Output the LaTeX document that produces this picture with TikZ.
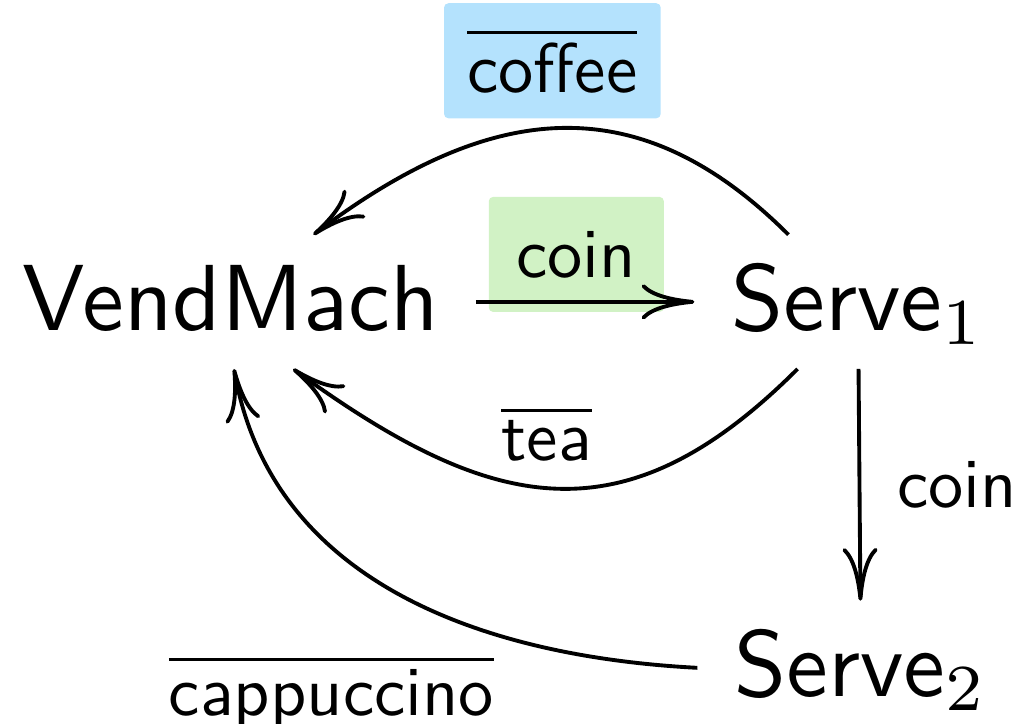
\documentclass[tikz,border=0pt]{standalone}
\usepackage{fix-cm}
\usetikzlibrary{arrows.meta}
\definecolor{coffeeblue}{RGB}{180,226,253}
\definecolor{coingreen}{RGB}{209,242,197}

\begin{document}
\begin{tikzpicture}[x=0.01cm, y=0.01cm, line width=1.1pt,
  >={To[length=15pt,width=10pt]},
  state/.style={font=\sffamily, scale=2.67, inner xsep=3.4pt, inner ysep=2.6pt,
    text height=7pt, text depth=1pt, anchor=base},
  act/.style={font=\sffamily, scale=2},
  hilite/.style={act, rounded corners=1.25pt, minimum width=0.875cm,
    minimum height=0.575cm, behind path}]
  \useasboundingbox (0,0) rectangle (1029,723);
  \node[state] (vm) at (230.5,393) {VendMach};
  \node[state] (s1) at (858,393) {Serve$_1$};
  \node[state] (s2) at (861,27) {Serve$_2$};
  \draw[->] (vm) -- (s1)
    node[pos=0.46, yshift=0.474cm, hilite, fill=coingreen] (lcoin) {coin};
  \draw[->] (s1.136) to[out=135, in=37, looseness=1.17]
    node[midway, xshift=-0.06cm, yshift=0.675cm, hilite, fill=coffeeblue] (lcoffee) {$\overline{\mbox{coffee}}$} (vm.39);
  \draw[->] (s1.-132) to[out=-135, in=-36, looseness=1.25]
    node[midway, xshift=-0.08cm, act, above] (ltea) {$\overline{\mbox{tea}}$} (vm.-47);
  \draw[->] (s1) -- (s2) node[midway, xshift=3pt, act, right] (lcoin2) {coin};
  \draw[->] (s2.180) to[out=177, in=-80]
    node[pos=0.28, yshift=4pt, act, below left] (lcap) {$\overline{\mbox{cappuccino}}$} (vm.-87);
\end{tikzpicture}
\end{document}
